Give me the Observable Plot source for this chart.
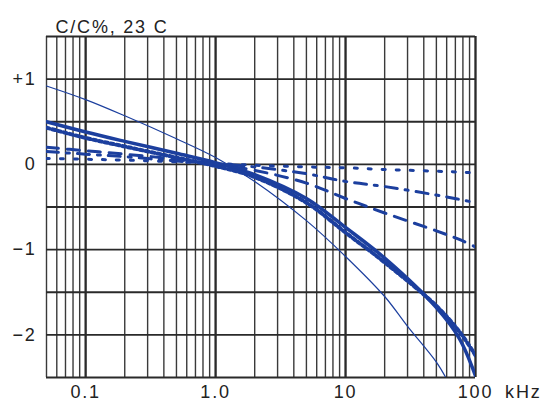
<!DOCTYPE html>
<html>
<head>
<meta charset="utf-8">
<script src="https://cdn.jsdelivr.net/npm/d3@7"></script>
<script src="https://cdn.jsdelivr.net/npm/@observablehq/plot@0.6"></script>
<style>
  html, body { margin: 0; padding: 0; background: #fff; }
  svg { font-family: "Liberation Sans", Arial, Helvetica, sans-serif; }
</style>
</head>
<body>
<div id="chart"></div>
<script>
// ---- data ----
const title = "C/C%, 23 C";
const xTicks = [0.1, 1, 10, 100];
const xTickLabels = ["0.1", "1.0", "10", "100"];
const xUnit = "kHz";
const yTicks = [1, 0, -1, -2];
const yTickLabels = ["+1", "0", "\u22121", "\u22122"];

const freq = [0.05, 0.1, 0.2, 0.5, 1, 2, 5, 10, 20, 50, 75, 100];
const thinFreq = [0.05, 0.1, 0.2, 0.5, 1, 2, 5, 10, 20, 30, 50, 60];
const thinSolid   = [0.92, 0.76, 0.57, 0.30, 0.08, -0.20, -0.66, -1.08, -1.55, -1.90, -2.32, -2.52];
const thickSolid  = [0.50, 0.38, 0.27, 0.13, 0.02, -0.12, -0.40, -0.74, -1.10, -1.68, -2.04, -2.48];
const thickDotted = [0.43, 0.31, 0.21, 0.08, -0.02, -0.15, -0.45, -0.80, -1.15, -1.66, -1.96, -2.24];
const dashed      = [0.20, 0.16, 0.12, 0.06, 0.00, -0.07, -0.22, -0.40, -0.57, -0.78, -0.88, -0.97];
const dashDot     = [0.15, 0.12, 0.09, 0.04, 0.01, -0.03, -0.11, -0.20, -0.26, -0.36, -0.41, -0.45];
const dotted      = [0.07, 0.06, 0.05, 0.03, 0.01, -0.01, -0.03, -0.04, -0.06, -0.08, -0.09, -0.10];

const xGrid = [0.05,0.06,0.07,0.08,0.09,0.1,0.2,0.3,0.4,0.5,0.6,0.7,0.8,0.9,1,2,3,4,5,6,7,8,9,10,20,30,40,50,60,70,80,90,100];
const xMajor = [0.1, 1, 10, 100];
const yGrid = [-2.5,-2,-1.5,-1,-0.5,0,0.5,1,1.5];

// ---- build tables ----
const blue = "#1c3f9e";
const mk = (xs, ys) => xs.map((x, i) => ({x, y: ys[i]}));
const xLabelOf = d => {
  const i = xTicks.findIndex(t => Math.abs(Math.log10(t) - Math.log10(d)) < 1e-6);
  return i >= 0 ? xTickLabels[i] : "";
};
const yLabelOf = d => {
  const i = yTicks.findIndex(t => Math.abs(t - d) < 1e-9);
  return i >= 0 ? yTickLabels[i] : "";
};
const series = [
  {data: mk(thinFreq, thinSolid), strokeWidth: 1.2},
  {data: mk(freq, thickSolid), strokeWidth: 3.5},
  {data: mk(freq, thickDotted), strokeWidth: 4, strokeDasharray: "3,3"},
  {data: mk(freq, dashed), strokeWidth: 3, strokeDasharray: "12,9"},
  {data: mk(freq, dashDot), strokeWidth: 3, strokeDasharray: "12,8,3,8"},
  {data: mk(freq, dotted), strokeWidth: 3, strokeDasharray: "3,11"}
];

const chart = Plot.plot({
  width: 550,
  height: 407,
  marginLeft: 46,
  marginRight: 75,
  marginTop: 36,
  marginBottom: 30,
  style: {fontSize: "18px", fontFamily: "'Liberation Sans', Arial, sans-serif", color: "#222", letterSpacing: "1.8px"},
  x: {type: "log", domain: [0.05, 100]},
  y: {domain: [-2.5, 1.5]},
  marks: [
    Plot.ruleX(xGrid, {stroke: "#3a3a3a", strokeWidth: 1.4}),
    Plot.ruleX(xMajor, {stroke: "#2a2a2a", strokeWidth: 2.2}),
    Plot.ruleY(yGrid, {stroke: "#2a2a2a", strokeWidth: 1.8}),
    ...series.map(s => Plot.line(s.data, {
      x: "x", y: "y", stroke: blue, strokeWidth: s.strokeWidth,
      strokeDasharray: s.strokeDasharray, curve: "catmull-rom", clip: true
    })),
    Plot.axisX({ticks: xTicks, tickFormat: xLabelOf, tickSize: 0, tickPadding: 8, label: null}),
    Plot.axisY({ticks: yTicks, tickFormat: yLabelOf, tickSize: 0, tickPadding: 10, label: null}),
    Plot.text([xUnit], {frameAnchor: "bottom-right", dx: 66, dy: 20, textAnchor: "end", fontSize: 18}),
    Plot.text([title], {frameAnchor: "top-left", dx: 9, dy: -16, textAnchor: "start", fontSize: 18})
  ]
});
document.getElementById("chart").appendChild(chart);
</script>
</body>
</html>
